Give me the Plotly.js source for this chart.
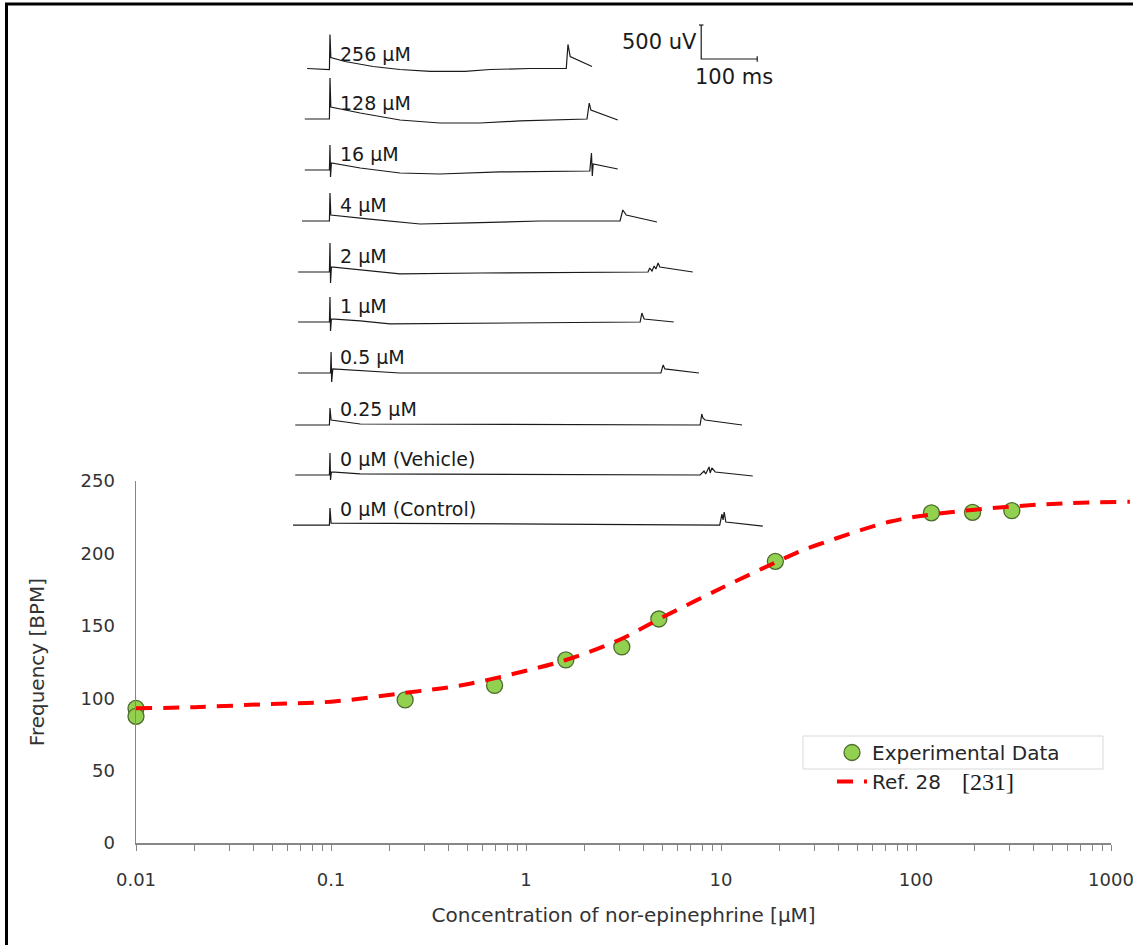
<!DOCTYPE html>
<html><head><meta charset="utf-8">
<script src="https://cdn.plot.ly/plotly-3.0.1.min.js"></script>
<style>html,body{margin:0;padding:0;background:#fff}#chart{width:1133px;height:945px}</style>
</head><body><div id="chart"></div>
<script>
// ---- main dose-response data ----
const concentrationUM = [0.01, 0.01, 0.24, 0.69, 1.6, 3.1, 4.8, 19, 120, 195, 310];
const frequencyBPM    = [93, 87.5, 98.8, 108.8, 126.4, 135.4, 154.7, 194.5, 228, 228.3, 229.5];
const fitConcentrationUM = [0.01, 0.02, 0.045, 0.1, 0.23, 0.475, 1.0, 1.6, 3.0, 4.9, 10, 19.4, 25.4, 31, 74, 122, 303, 595, 1250];
const fitFrequencyBPM    = [93.0, 93.8, 95.8, 97.6, 103.4, 109.1, 119, 126.4, 140.2, 155.2, 175.9, 194.3, 201.5, 205.8, 222, 227, 232.3, 234.6, 235.7];
const xTickLabels = ['0.01', '0.1', '1', '10', '100', '1000'];
const yTickValues = [0, 50, 100, 150, 200, 250];
const fitName = 'Ref. 28';
const fitCitation = '[231]';

// ---- inset ECG recordings (time in ms, voltage in uV relative to each baseline) ----
const ecgLabels = ['256 µM', '128 µM', '16 µM', '4 µM', '2 µM', '1 µM', '0.5 µM', '0.25 µM', '0 µM (Vehicle)', '0 µM (Control)'];
const ecgOffsetsUV = [-1022, -1750, -2500, -3250, -4000, -4735, -5485, -6250, -6985, -7721];
const ecgTimesMs = [
  [-41, -1, 0, 1.5, 27, 77, 125, 179, 241, 286, 357, 422, 425, 429, 468],
  [-45, -1, 0, 1.5, 54, 125, 196, 268, 339, 411, 459, 463, 466, 514],
  [-45, -1, 0, 1, 2.5, 54, 125, 196, 304, 464, 467, 468.5, 470, 514],
  [-50, -1, 0, 1.5, 71, 161, 250, 375, 518, 523, 529, 584],
  [-57, -1, 0, 1, 2.5, 54, 125, 268, 446, 568, 571, 575, 579, 582, 586, 589, 648],
  [-57, -1, 0, 1, 2.5, 54, 107, 268, 554, 557, 561, 614],
  [-57, 1, 2, 3, 5, 125, 591, 595, 598, 659],
  [-62, -1, 0, 2, 54, 661, 664, 666, 670, 736],
  [-62, -1, 0, 1, 2.5, 54, 661, 668, 671, 677, 679, 682, 688, 755],
  [-66, -1, 0, 2, 696, 700, 702, 704, 707, 773]
];
const ecgVoltsUV = [
  [15, 0, 515, 176, 118, 44, 0, -29, -29, 0, 15, 15, 368, 191, 44],
  [0, 0, 603, 176, 88, -15, -59, -59, -29, -15, 0, 235, 132, -15],
  [0, 0, 368, -103, 103, 29, -44, -59, -29, -15, 250, -88, 88, 15],
  [0, 0, 412, 88, 29, -44, -29, 0, 0, 162, 88, -15],
  [0, 0, 426, -162, 74, 29, -29, -15, 0, 0, 59, 15, 88, 44, 132, 74, 0],
  [0, 0, 368, -132, 44, 15, -29, -15, 0, 132, 44, 0],
  [0, 0, 309, -132, 59, 0, 0, 118, 59, 0],
  [0, 0, 250, 74, 15, 0, 162, 103, 74, 0],
  [0, 0, 324, -74, 44, 15, 0, 59, 15, 118, 29, 103, 44, -15],
  [0, 0, 250, 29, 0, 162, 74, 191, 44, -15]
];
const scaleBarMs = 100;
const scaleBarUV = 500;

// ---- helpers (pixel -> paper) ----
const W = 1133, H = 945;
const px = x => x / W;
const py = y => 1 - y / H;

const traces = [];
ecgTimesMs.forEach((t, i) => {
  traces.push({
    x: t, y: ecgVoltsUV[i].map(v => v + ecgOffsetsUV[i]),
    xaxis: 'x2', yaxis: 'y2', mode: 'lines', showlegend: false, hoverinfo: 'skip',
    line: {color: '#1a1a1a', width: 1.2}
  });
});
// scale bar
const sbT = 663, sbV = -868;
traces.push({
  x: [sbT - 4, sbT + 4, null, sbT, sbT, sbT + scaleBarMs, null, sbT + scaleBarMs, sbT + scaleBarMs],
  y: [sbV + scaleBarUV, sbV + scaleBarUV, null, sbV + scaleBarUV, sbV, sbV, null, sbV - 40, sbV + 40],
  xaxis: 'x2', yaxis: 'y2', mode: 'lines', showlegend: false, hoverinfo: 'skip',
  line: {color: '#1a1a1a', width: 1.2}
});
traces.push({
  x: concentrationUM, y: frequencyBPM, xaxis: 'x', yaxis: 'y',
  mode: 'markers', name: 'Experimental Data', cliponaxis: false,
  marker: {size: 16, color: '#92D050', line: {color: '#4E6B2E', width: 1.3}}
});
traces.push({
  x: fitConcentrationUM, y: fitFrequencyBPM, xaxis: 'x3', yaxis: 'y',
  mode: 'lines', name: fitName,
  line: {color: '#FF0000', width: 4, dash: '16px,11px', shape: 'spline'}
});

// x ticks: decades labelled, 2..9 unlabelled
const xTickVals = [], xTickText = [];
for (let e = -2, k = 0; e <= 3; e++, k++) {
  for (let m = 1; m <= 9; m++) {
    if (e === 3 && m > 1) break;
    xTickVals.push(+(m * Math.pow(10, e)).toPrecision(6));
    xTickText.push(m === 1 ? xTickLabels[k] : '');
  }
}

const fontMain = 'DejaVu Sans';
const annotations = ecgLabels.map((lab, i) => ({
  text: lab, xref: 'x2', yref: 'y2', x: 14, y: ecgOffsetsUV[i] + 235,
  xanchor: 'left', yanchor: 'middle', showarrow: false,
  font: {family: fontMain, size: 19, color: '#1a1a1a'}
}));
annotations.push({text: scaleBarUV + ' uV', xref: 'x2', yref: 'y2', x: sbT - 4, y: sbV + scaleBarUV * 0.5,
  xanchor: 'right', yanchor: 'middle', showarrow: false, font: {family: fontMain, size: 21, color: '#1a1a1a'}});
annotations.push({text: scaleBarMs + ' ms', xref: 'x2', yref: 'y2', x: sbT - 14, y: sbV - 265,
  xanchor: 'left', yanchor: 'middle', showarrow: false, font: {family: fontMain, size: 21, color: '#1a1a1a'}});
// citation next to the legend entry (serif font, as in the reference)
annotations.push({text: fitCitation, xref: 'paper', yref: 'paper', x: px(960), y: py(782),
  xanchor: 'left', yanchor: 'middle', showarrow: false,
  font: {family: '"Liberation Serif", "DejaVu Serif", "Times New Roman", serif', size: 24, color: '#1a1a1a'}});

const axisGray = '#868686';
const layout = {
  width: W, height: H,
  margin: {l: 0, r: 0, t: 0, b: 0},
  paper_bgcolor: '#ffffff', plot_bgcolor: 'rgba(0,0,0,0)',
  showlegend: true,
  xaxis: {
    type: 'log', domain: [px(136), px(1111.2)], range: [-2, 3.001], anchor: 'y',
    tickmode: 'array', tickvals: xTickVals, ticktext: xTickText,
    ticks: 'outside', ticklen: 6, tickwidth: 1, tickcolor: axisGray,
    showline: true, linecolor: axisGray, linewidth: 1.5, showgrid: false, zeroline: false,
    tickfont: {family: fontMain, size: 18, color: '#333333'}, ticklabelstandoff: 14,
    ticklabeloverflow: 'allow',
    title: {text: 'Concentration of nor-epinephrine [µM]', font: {family: fontMain, size: 20, color: '#333333'}, standoff: 19},
    automargin: false, fixedrange: true
  },
  yaxis: {
    domain: [py(843), py(481)], range: [0, 250], anchor: 'x',
    tickmode: 'array', tickvals: yTickValues, ticks: '',
    showline: true, linecolor: axisGray, linewidth: 1.5, showgrid: false, zeroline: false,
    tickfont: {family: fontMain, size: 18, color: '#333333'}, ticklabelstandoff: 16,
    title: {text: 'Frequency [BPM]', font: {family: fontMain, size: 20, color: '#333333'}, standoff: 30},
    automargin: false, fixedrange: true
  },
  xaxis3: {type: 'log', domain: [px(136), 1], range: [-2, -2 + (W - 136) / 195], anchor: 'y', visible: false, fixedrange: true},
  xaxis2: {domain: [0, 1], range: [-589.3, 1434.1], anchor: 'y2', visible: false, fixedrange: true},
  yaxis2: {domain: [0, 1], range: [-13897, 0], anchor: 'x2', visible: false, fixedrange: true},
  legend: {
    x: px(832), y: py(733), xanchor: 'left', yanchor: 'top',
    bgcolor: 'rgba(0,0,0,0)', borderwidth: 0,
    font: {family: fontMain, size: 20, color: '#262626'}
  },
  annotations: annotations,
  shapes: [
    {type: 'rect', xref: 'paper', yref: 'paper', x0: px(803), x1: px(1103), y0: py(769), y1: py(736),
     line: {color: '#d9d9d9', width: 1}, fillcolor: '#ffffff', layer: 'below'},
    {type: 'rect', xref: 'paper', yref: 'paper', x0: px(6.5), x1: px(1160), y0: py(975), y1: py(4),
     line: {color: '#000000', width: 3}, layer: 'above'}
  ]
};

Plotly.newPlot('chart', traces, layout, {staticPlot: true, displayModeBar: false});
</script>
</body></html>
